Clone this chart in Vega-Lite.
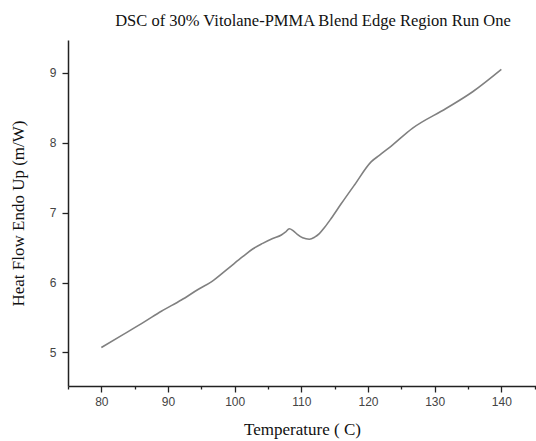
{
  "$schema": "https://vega.github.io/schema/vega-lite/v6.json",
  "autosize": "none",
  "padding": {"left": 68, "top": 40, "right": 0, "bottom": 55},
  "width": 468,
  "height": 346,
  "background": "white",
  "title": {
    "text": "DSC of 30% Vitolane-PMMA Blend Edge Region Run One",
    "font": "Liberation Serif",
    "fontSize": 16.5,
    "fontWeight": "normal",
    "color": "#111",
    "anchor": "middle",
    "dx": 11,
    "offset": 11
  },
  "config": {
    "view": {"stroke": null},
    "axis": {
      "grid": false,
      "domainColor": "#222",
      "domainWidth": 1.5,
      "tickColor": "#222",
      "tickWidth": 1.3,
      "labelFont": "Liberation Sans",
      "labelFontSize": 12,
      "labelColor": "#444",
      "titleFont": "Liberation Serif",
      "titleFontSize": 17,
      "titleFontWeight": "normal",
      "titleColor": "#111"
    }
  },
  "data": {
    "values": [
      {"T": 80, "H": 5.07},
      {"T": 83, "H": 5.24},
      {"T": 86.5, "H": 5.44},
      {"T": 89, "H": 5.59},
      {"T": 92, "H": 5.75},
      {"T": 94.5, "H": 5.9},
      {"T": 96.5, "H": 6.01},
      {"T": 99, "H": 6.2},
      {"T": 101.2, "H": 6.37},
      {"T": 102.7, "H": 6.48},
      {"T": 104.2, "H": 6.56},
      {"T": 105.7, "H": 6.63},
      {"T": 107.0, "H": 6.68},
      {"T": 107.6, "H": 6.72},
      {"T": 108.2, "H": 6.77},
      {"T": 108.8, "H": 6.74},
      {"T": 109.4, "H": 6.69},
      {"T": 110.2, "H": 6.64},
      {"T": 111.2, "H": 6.62},
      {"T": 112.0, "H": 6.65},
      {"T": 112.7, "H": 6.7},
      {"T": 113.5, "H": 6.79},
      {"T": 114.5, "H": 6.92},
      {"T": 116, "H": 7.13},
      {"T": 118, "H": 7.4},
      {"T": 120.5, "H": 7.73},
      {"T": 121.7, "H": 7.82},
      {"T": 123.2, "H": 7.93},
      {"T": 126.7, "H": 8.21},
      {"T": 131.7, "H": 8.49},
      {"T": 135.7, "H": 8.73},
      {"T": 140, "H": 9.05}
    ]
  },
  "mark": {"type": "line", "color": "#808080", "strokeWidth": 1.6, "interpolate": "monotone"},
  "encoding": {
    "x": {
      "field": "T",
      "type": "quantitative",
      "scale": {"domain": [75, 145.2], "nice": false, "zero": false},
      "axis": {
        "title": "Temperature ( C)",
        "values": [75, 80, 85, 90, 95, 100, 105, 110, 115, 120, 125, 130, 135, 140, 145],
        "format": "d",
        "labelExpr": "datum.value % 10 === 0 ? datum.label : ''",
        "tickSize": {"expr": "datum.value % 10 === 0 ? 6 : 3"},
        "labelPadding": 4,
        "titlePadding": 14
      }
    },
    "y": {
      "field": "H",
      "type": "quantitative",
      "scale": {"domain": [4.52, 9.47], "nice": false, "zero": false},
      "axis": {
        "title": "Heat Flow Endo Up (m/W)",
        "values": [5, 5.5, 6, 6.5, 7, 7.5, 8, 8.5, 9],
        "format": "d",
        "labelExpr": "datum.value % 1 === 0 ? datum.label : ''",
        "tickSize": {"expr": "datum.value % 1 === 0 ? 6 : 3"},
        "labelPadding": 6,
        "titlePadding": 22
      }
    }
  }
}
